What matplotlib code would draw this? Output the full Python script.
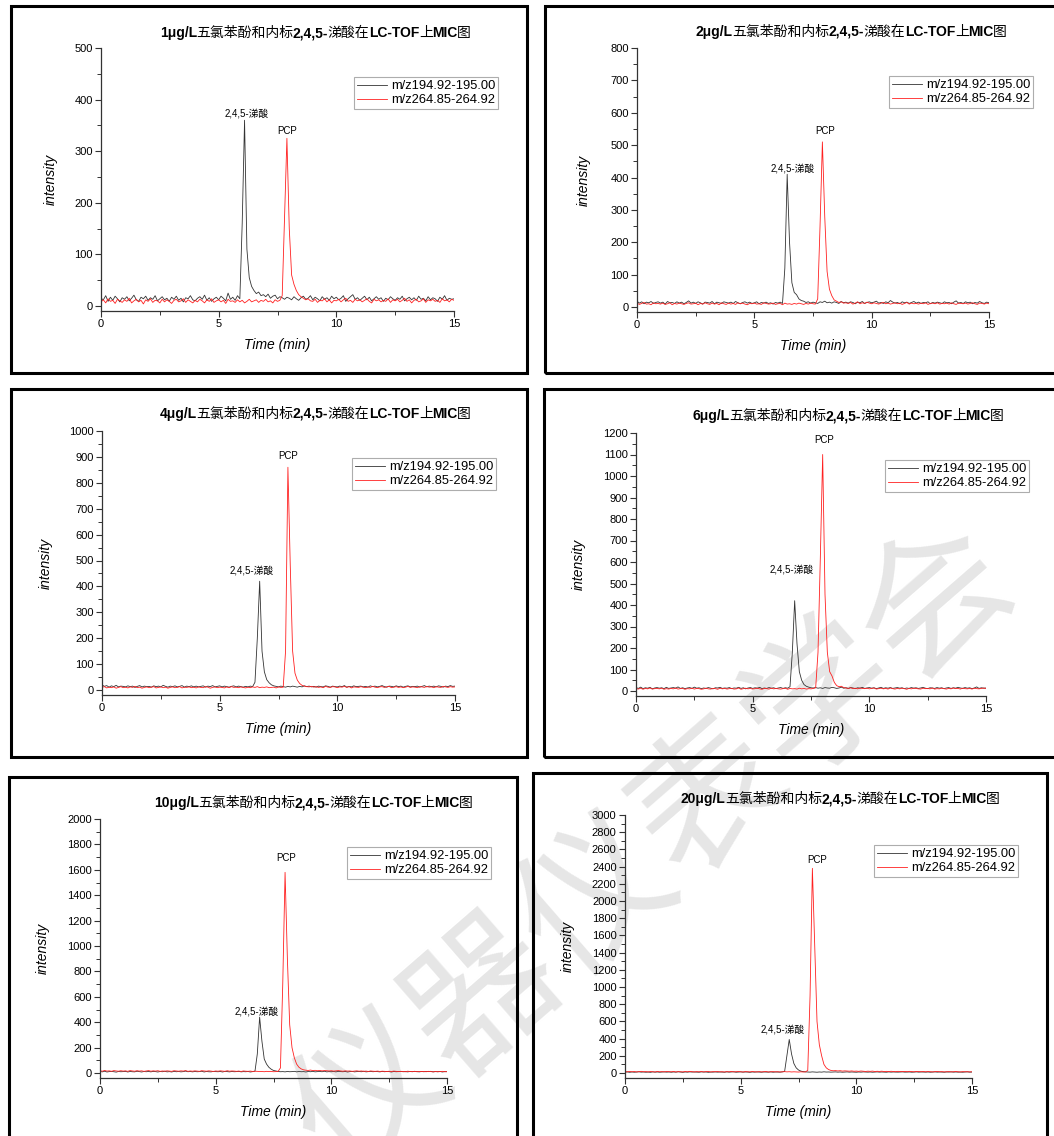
import numpy as np
import matplotlib.pyplot as plt
from matplotlib.patches import Rectangle
from matplotlib.ticker import MultipleLocator

plt.rcParams['font.family'] = ['Liberation Sans', 'Noto Sans CJK SC']

W, H = 1054, 1136

# sample times (min)
t = np.round(np.arange(0, 15.05, 0.1), 1)

concs = ["1", "2", "4", "6", "10", "20"]
legend_labels = ["m/z194.92-195.00", "m/z264.85-264.92"]
ymax = [500, 800, 1000, 1200, 2000, 3000]
ymajor = [100, 100, 100, 100, 200, 200]

# 1 ug/L
c1_195 = [15, 12, 20, 9, 17, 11, 19, 14, 8, 16,
          13, 18, 10, 15, 21, 12, 9, 17, 14, 19,
          11, 16, 13, 20, 10, 14, 18, 12, 15, 9,
          17, 13, 19, 11, 15, 8, 16, 14, 20, 12,
          10, 15, 18, 13, 21, 11, 16, 9, 14, 17,
          12, 19, 15, 10, 25, 13, 17, 11, 20, 14,
          160, 360, 110, 55, 38, 30, 24, 27, 20, 22,
          18, 23, 15, 19, 21, 14, 18, 16, 13, 17,
          15, 12, 18, 14, 11, 16, 19, 13, 15, 20,
          12, 17, 14, 10, 18, 13, 16, 11, 19, 14,
          17, 12, 15, 20, 9, 14, 18, 22, 13, 16,
          11, 15, 19, 12, 17, 10, 14, 18, 13, 16,
          9, 15, 12, 18, 14, 11, 16, 13, 19, 10,
          14, 17, 12, 16, 11, 19, 13, 15, 10, 18,
          12, 16, 14, 9, 17, 13, 20, 11, 15, 13,
          14]
c1_265 = [8, 12, 6, 14, 9, 11, 5, 13, 10, 7,
          12, 9, 15, 6, 10, 13, 8, 11, 4, 12,
          9, 14, 7, 11, 10, 6, 13, 8, 12, 9,
          5, 11, 13, 8, 10, 14, 7, 12, 9, 6,
          11, 8, 13, 10, 6, 12, 9, 14, 7, 10,
          12, 8, 11, 5, 13, 9, 10, 7, 12, 8,
          11, 6, 9, 13, 8, 10, 12, 7, 11, 9,
          13, 8, 10, 6, 12, 9, 11, 20, 170, 325,
          150, 60, 42, 30, 22, 18, 15, 12, 14, 10,
          9, 13, 7, 11, 10, 14, 8, 12, 6, 11,
          10, 13, 8, 12, 15, 9, 11, 7, 13, 10,
          12, 8, 11, 14, 9, 6, 13, 10, 12, 8,
          11, 9, 14, 7, 12, 10, 13, 8, 11, 15,
          9, 12, 6, 11, 13, 8, 10, 14, 7, 12,
          10, 13, 9, 11, 7, 14, 10, 12, 8, 13,
          11]

# 2 ug/L
c2_195 = [18, 12, 16, 10, 15, 13, 17, 11, 14, 16,
          12, 15, 9, 17, 13, 14, 11, 16, 12, 15,
          10, 14, 19, 12, 15, 11, 16, 13, 9, 15,
          14, 12, 17, 10, 15, 13, 11, 16, 14, 12,
          15, 11, 17, 13, 10, 14, 16, 12, 15, 11,
          13, 16, 10, 14, 12, 15, 11, 13, 9, 14,
          12, 15, 11, 120, 410, 200, 75, 45, 38, 25,
          20, 18, 14, 16, 12, 15, 13, 11, 16, 14,
          18, 13, 15, 12, 16, 14, 11, 17, 13, 15,
          12, 16, 14, 10, 15, 13, 17, 11, 14, 16,
          13, 15, 18, 12, 14, 11, 16, 13, 20, 15,
          12, 14, 10, 16, 13, 15, 11, 14, 17, 12,
          15, 11, 14, 13, 16, 10, 14, 12, 15, 13,
          11, 16, 13, 14, 10, 15, 19, 12, 14, 11,
          16, 13, 15, 10, 14, 12, 17, 13, 11, 15,
          13]
c2_265 = [12, 8, 11, 14, 9, 10, 7, 13, 10, 11,
          9, 12, 8, 10, 13, 7, 11, 9, 12, 10,
          8, 11, 13, 9, 10, 12, 7, 11, 9, 13,
          10, 8, 12, 9, 11, 7, 13, 10, 8, 12,
          9, 11, 8, 13, 10, 12, 9, 7, 11, 10,
          12, 9, 10, 8, 13, 11, 9, 10, 12, 8,
          10, 11, 7, 12, 9, 10, 8, 11, 9, 12,
          10, 8, 11, 9, 12, 10, 9, 25, 250, 510,
          280, 110, 55, 35, 22, 18, 14, 16, 12, 13,
          11, 14, 9, 12, 16, 10, 13, 11, 15, 12,
          10, 13, 11, 9, 12, 14, 10, 12, 9, 11,
          13, 10, 12, 8, 11, 14, 9, 12, 10, 11,
          9, 12, 10, 13, 8, 11, 12, 10, 13, 9,
          11, 10, 12, 9, 13, 10, 8, 12, 11, 10,
          12, 9, 11, 13, 10, 8, 12, 11, 9, 12,
          10]

# 4 ug/L
c4_195 = [20, 14, 17, 11, 16, 13, 18, 12, 15, 14,
          12, 16, 13, 15, 10, 14, 17, 12, 15, 13,
          14, 11, 16, 13, 15, 12, 18, 14, 11, 15,
          13, 16, 12, 14, 17, 11, 15, 13, 16, 12,
          15, 12, 14, 16, 11, 15, 13, 17, 12, 14,
          16, 12, 15, 13, 11, 14, 16, 12, 15, 13,
          11, 14, 12, 15, 13, 30, 200, 420, 150, 70,
          40, 28, 20, 16, 14, 12, 15, 13, 11, 14,
          12, 15, 13, 11, 14, 12, 16, 13, 15, 12,
          14, 11, 15, 13, 12, 16, 14, 11, 15, 13,
          12, 15, 13, 17, 11, 14, 12, 16, 13, 14,
          15, 12, 14, 11, 16, 13, 15, 12, 14, 17,
          13, 11, 15, 14, 12, 16, 13, 15, 11, 14,
          16, 12, 14, 13, 15, 11, 14, 17, 12, 15,
          13, 15, 12, 16, 14, 11, 15, 13, 17, 14,
          15]
c4_265 = [10, 13, 8, 11, 9, 12, 7, 10, 13, 9,
          11, 8, 12, 10, 14, 9, 11, 7, 10, 12,
          9, 11, 13, 8, 10, 12, 9, 11, 7, 10,
          12, 9, 10, 13, 8, 11, 10, 12, 9, 11,
          8, 12, 10, 9, 13, 11, 7, 10, 12, 9,
          11, 10, 8, 12, 9, 13, 10, 11, 9, 12,
          10, 8, 11, 9, 12, 10, 13, 9, 11, 10,
          12, 9, 10, 11, 8, 12, 10, 11, 150, 860,
          480, 150, 65, 38, 25, 18, 15, 13, 12, 14,
          11, 13, 10, 12, 9, 14, 11, 10, 13, 12,
          9, 12, 11, 14, 10, 13, 8, 12, 11, 10,
          13, 11, 9, 12, 10, 14, 11, 9, 12, 13,
          10, 12, 14, 9, 11, 13, 10, 12, 9, 11,
          14, 10, 12, 11, 9, 13, 12, 10, 14, 11,
          12, 9, 13, 11, 10, 14, 12, 10, 13, 11,
          12]

# 6 ug/L
c6_195 = [16, 12, 18, 11, 15, 13, 17, 10, 14, 16,
          13, 15, 11, 17, 12, 14, 16, 13, 19, 12,
          15, 11, 14, 16, 12, 18, 13, 15, 11, 14,
          12, 16, 13, 10, 15, 14, 17, 12, 14, 13,
          16, 11, 14, 13, 17, 12, 15, 10, 14, 16,
          12, 15, 13, 17, 11, 14, 12, 16, 13, 15,
          11, 14, 16, 12, 15, 13, 20, 180, 420, 220,
          90, 50, 30, 22, 18, 15, 14, 16, 13, 15,
          12, 16, 14, 13, 17, 15, 12, 14, 18, 13,
          15, 12, 16, 14, 11, 15, 13, 17, 12, 14,
          16, 13, 15, 11, 14, 17, 12, 15, 13, 16,
          12, 14, 16, 13, 15, 11, 14, 12, 16, 13,
          15, 12, 14, 17, 13, 11, 15, 14, 12, 16,
          13, 15, 11, 14, 16, 12, 15, 13, 17, 14,
          12, 16, 13, 15, 11, 14, 19, 12, 15, 13,
          14]
c6_265 = [11, 9, 13, 8, 12, 10, 14, 9, 11, 12,
          10, 13, 8, 11, 9, 12, 10, 14, 9, 11,
          12, 8, 11, 10, 13, 9, 12, 11, 8, 10,
          13, 10, 9, 12, 11, 8, 13, 10, 12, 9,
          11, 12, 9, 10, 14, 8, 11, 13, 10, 12,
          9, 11, 13, 10, 8, 12, 11, 9, 13, 10,
          12, 10, 9, 11, 13, 8, 12, 10, 11, 9,
          13, 10, 12, 9, 11, 10, 12, 15, 180, 620,
          1100, 450, 180, 90, 70, 40, 25, 20, 22, 16,
          14, 12, 15, 11, 13, 10, 14, 12, 11, 13,
          10, 12, 14, 9, 11, 13, 10, 12, 9, 14,
          11, 9, 12, 10, 13, 11, 8, 12, 10, 13,
          12, 10, 9, 13, 11, 12, 10, 14, 9, 11,
          10, 13, 11, 9, 12, 10, 14, 11, 12, 9,
          13, 11, 10, 12, 9, 13, 11, 10, 12, 14,
          11]

# 10 ug/L
c10_195 = [12, 9, 14, 8, 11, 13, 10, 7, 12, 10,
           11, 13, 8, 12, 10, 9, 14, 11, 8, 12,
           10, 12, 9, 13, 11, 8, 12, 10, 14, 9,
           11, 8, 13, 10, 12, 9, 11, 15, 10, 12,
           9, 12, 10, 11, 14, 8, 12, 10, 9, 13,
           11, 10, 12, 8, 13, 11, 9, 12, 10, 11,
           13, 9, 11, 10, 12, 8, 11, 15, 150, 440,
           250, 110, 70, 45, 30, 20, 16, 12, 10, 11,
           9, 12, 10, 11, 13, 9, 12, 10, 11, 8,
           12, 10, 13, 9, 11, 12, 10, 14, 9, 11,
           10, 12, 9, 13, 11, 10, 12, 8, 11, 13,
           9, 11, 12, 10, 14, 9, 11, 13, 10, 12,
           11, 9, 13, 10, 12, 11, 8, 12, 10, 11,
           13, 10, 11, 9, 12, 10, 13, 11, 9, 12,
           10, 12, 11, 13, 9, 11, 10, 12, 8, 11,
           10]
c10_265 = [18, 14, 20, 15, 17, 13, 19, 16, 14, 18,
           15, 17, 13, 19, 16, 14, 18, 15, 17, 13,
           16, 19, 14, 17, 15, 18, 13, 16, 14, 17,
           15, 13, 18, 16, 14, 17, 15, 19, 13, 16,
           14, 17, 15, 13, 18, 16, 14, 17, 15, 12,
           16, 14, 17, 15, 13, 18, 14, 16, 15, 13,
           15, 12, 16, 14, 13, 15, 12, 14, 13, 11,
           12, 10, 13, 11, 12, 10, 11, 13, 40, 700,
           1580, 900, 380, 200, 120, 70, 45, 32, 25, 22,
           20, 23, 19, 21, 18, 20, 17, 19, 18, 16,
           18, 15, 17, 19, 16, 14, 17, 15, 16, 13,
           15, 17, 14, 16, 13, 15, 12, 16, 14, 13,
           15, 12, 14, 13, 11, 14, 12, 15, 13, 11,
           13, 12, 10, 14, 12, 11, 13, 10, 12, 11,
           12, 10, 13, 11, 9, 12, 10, 11, 13, 10,
           11]

# 20 ug/L
c20_195 = [10, 13, 8, 12, 9, 11, 14, 10, 12, 9,
           11, 8, 13, 10, 12, 9, 11, 13, 10, 12,
           9, 12, 10, 14, 11, 8, 12, 10, 13, 11,
           12, 10, 9, 13, 11, 12, 8, 11, 10, 13,
           10, 12, 11, 9, 13, 10, 12, 14, 9, 11,
           13, 10, 12, 11, 8, 12, 10, 13, 11, 9,
           12, 11, 10, 13, 9, 12, 11, 10, 13, 18,
           200, 390, 220, 110, 60, 35, 22, 16, 13, 12,
           10, 13, 11, 9, 12, 10, 14, 11, 12, 10,
           11, 13, 10, 12, 9, 11, 13, 10, 12, 11,
           9, 12, 10, 13, 11, 10, 12, 9, 11, 13,
           10, 12, 11, 9, 13, 10, 12, 11, 10, 12,
           13, 10, 11, 12, 9, 11, 13, 10, 12, 11,
           10, 12, 9, 11, 13, 10, 12, 11, 9, 12,
           11, 13, 10, 12, 10, 11, 9, 12, 13, 10,
           11]
c20_265 = [16, 13, 18, 14, 17, 12, 15, 19, 14, 16,
           13, 17, 15, 12, 18, 14, 16, 13, 17, 15,
           14, 18, 12, 16, 15, 13, 17, 14, 19, 15,
           12, 16, 14, 17, 13, 15, 18, 12, 16, 14,
           17, 13, 15, 12, 16, 14, 18, 13, 15, 17,
           14, 12, 16, 15, 13, 17, 14, 12, 16, 13,
           15, 17, 12, 14, 16, 13, 15, 12, 14, 16,
           13, 15, 12, 14, 13, 11, 14, 12, 13, 30,
           900, 2380, 1500, 600, 330, 200, 100, 60, 40, 30,
           26, 28, 24, 27, 22, 25, 23, 21, 24, 20,
           22, 19, 23, 20, 18, 21, 19, 22, 17, 20,
           18, 21, 17, 19, 16, 20, 18, 15, 19, 17,
           16, 18, 15, 19, 17, 14, 18, 16, 15, 17,
           14, 17, 15, 13, 16, 18, 14, 16, 13, 15,
           16, 13, 15, 17, 14, 12, 16, 14, 15, 13,
           14]

series_195 = [c1_195, c2_195, c4_195, c6_195, c10_195, c20_195]
series_265 = [c1_265, c2_265, c4_265, c6_265, c10_265, c20_265]

# peak label positions (time, intensity)
lab_ta = [(6.2, 373), (6.65, 429), (6.37, 463), (6.69, 567), (6.77, 481), (6.8, 510)]
lab_pcp = [(7.9, 340), (8.0, 543), (7.9, 903), (8.06, 1167), (8.04, 1694), (8.31, 2480)]

# layout in pixels
frames = [(11, 6, 527, 373), (545, 6, 1060, 373), (11, 389, 527, 757),
          (544, 389, 1060, 757), (9, 777, 517, 1145), (533, 773, 1047, 1145)]
axes_px = [(101, 48, 454, 311), (637, 48, 989, 312), (102, 431, 455, 695),
           (636, 433, 986, 696), (100, 819, 447, 1078), (625, 815, 972, 1078)]
title_pos = [(315, 37), (851, 36), (315, 418), (848, 420), (313, 807), (840, 803)]
legend_pos = [(354, 77), (889, 76), (352, 458), (885, 460), (347, 847), (874, 845)]
ylabel_x = [51, 584, 46, 579, 43, 568]


def fx(x):
    return x / W


def fy(y):
    return 1 - y / H


fig = plt.figure(figsize=(W / 100, H / 100), dpi=100)
renderer = fig.canvas.get_renderer()

# watermark
fig.text(fx(655), fy(850), "仪器仪表学会", rotation=41, fontsize=108,
         color='#e6e6e6', family='Noto Sans CJK SC',
         ha='center', va='center', zorder=0.5)


def mixed_title(xc, yb, segs, size):
    texts = []
    for s, bold in segs:
        texts.append(fig.text(0, fy(yb), s, fontsize=size,
                              fontweight='bold' if bold else 'normal',
                              va='baseline', ha='left', zorder=4))
    widths = [tx.get_window_extent(renderer).width - 0.5 for tx in texts]
    x = xc - sum(widths) / 2
    for tx, w in zip(texts, widths):
        tx.set_x(fx(x))
        x += w


for i in range(6):
    l, tp, r, b = axes_px[i]
    ax = fig.add_axes([fx(l), fy(b), (r - l) / W, (b - tp) / H])
    ax.set_facecolor('none')
    ax.set_zorder(2)
    ax.plot(t, series_195[i], color='#333333', lw=0.6, label=legend_labels[0])
    ax.plot(t, series_265[i], color='#ff2020', lw=0.6, label=legend_labels[1])
    ax.set_xlim(0, 15)
    ybot = -ymax[i] * 5 / (b - tp - 5)
    ax.set_ylim(ybot, ymax[i])
    ax.spines['top'].set_visible(False)
    ax.spines['right'].set_visible(False)
    for s in ('left', 'bottom'):
        ax.spines[s].set_linewidth(0.9)
        ax.spines[s].set_color('#333333')
    ax.xaxis.set_major_locator(MultipleLocator(5))
    ax.xaxis.set_minor_locator(MultipleLocator(2.5))
    ax.yaxis.set_major_locator(MultipleLocator(ymajor[i]))
    ax.yaxis.set_minor_locator(MultipleLocator(ymajor[i] / 2))
    ax.tick_params(which='both', direction='out', labelsize=8, color='#333333')
    ax.tick_params(which='major', length=4, width=0.8, pad=2)
    ax.tick_params(which='minor', length=3, width=0.7)
    ax.set_yticks(np.arange(0, ymax[i] + 1, ymajor[i]))

    ax.set_ylabel('intensity', style='italic', fontsize=10)
    ax.yaxis.set_label_coords((ylabel_x[i] + 7 - l) / (r - l), 0.5)
    ax.set_xlabel('Time (min)', style='italic', fontsize=10)
    ax.xaxis.set_label_coords(0.5, -27 / (b - tp))

    ax.text(*lab_ta[i], "2,4,5-涕酸", fontsize=7, ha='center', va='center')
    ax.text(*lab_pcp[i], "PCP", fontsize=7, ha='center', va='center')

    lx, ly = legend_pos[i]
    leg = ax.legend(loc='upper left', bbox_to_anchor=(fx(lx), fy(ly)),
                    bbox_transform=fig.transFigure, fontsize=9.3, frameon=True,
                    fancybox=False, edgecolor='#999999', borderaxespad=0,
                    borderpad=0.25, labelspacing=0.15, handlelength=2.3,
                    handletextpad=0.3)
    leg.get_frame().set_linewidth(0.8)

    segs = [(concs[i] + "μg/L", True), ("五氯苯酚和内标", False), ("2,4,5-", True),
            ("涕酸在", False), ("LC-TOF", True), ("上", False), ("MIC", True),
            ("图", False)]
    mixed_title(title_pos[i][0], title_pos[i][1], segs, 10)

    fl, ft, fr, fb = frames[i]
    fig.add_artist(Rectangle((fx(fl), fy(fb)), (fr - fl) / W, (fb - ft) / H,
                             transform=fig.transFigure, fill=False, lw=2.2,
                             ec='black', zorder=5))

fig.savefig('out.png', dpi=100, facecolor='white')
